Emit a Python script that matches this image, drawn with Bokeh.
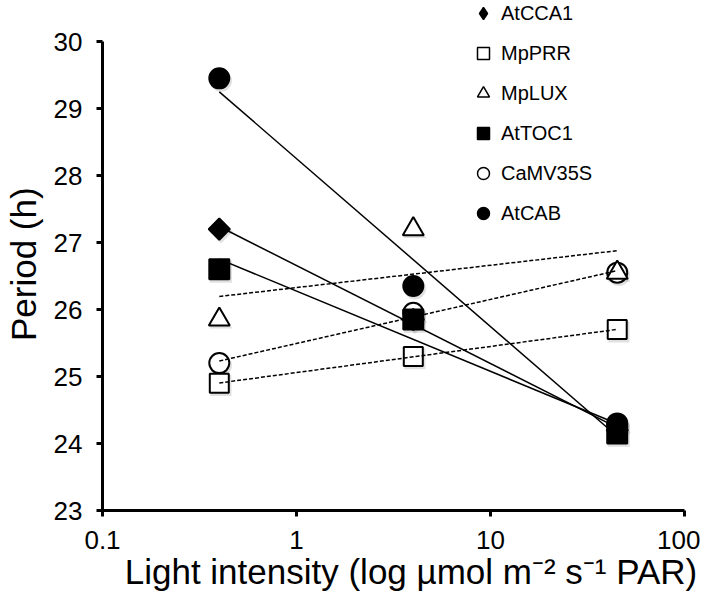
import numpy as np
from bokeh.plotting import figure
from bokeh.models import (Range1d, FixedTicker, CustomJSTickFormatter, Legend,
                          LegendItem, ColumnDataSource)
from bokeh.embed import file_html
from bokeh.resources import INLINE

# ---- data ----
light = [0.4, 4, 45]
series = ["AtCCA1", "MpPRR", "MpLUX", "AtTOC1", "CaMV35S", "AtCAB"]
atcca1 = [27.2, 25.85, 24.2]
mpprr = [24.9, 25.3, 25.7]
mplux = [25.85, 27.2, 26.55]
attoc1 = [26.6, 25.85, 24.15]
camv35s = [25.2, 25.95, 26.55]
atcab = [29.45, 26.35, 24.3]
x_ticks = [0.1, 1, 10, 100]
y_ticks = [23, 24, 25, 26, 27, 28, 29, 30]
y_axis_min, y_axis_max = 23, 30

values = {"AtCCA1": atcca1, "MpPRR": mpprr, "MpLUX": mplux,
          "AtTOC1": attoc1, "CaMV35S": camv35s, "AtCAB": atcab}
styles = {
    "AtCCA1": dict(marker="square", angle=np.pi / 4, fill="black", size=15, dash="solid",
                   legend_marker="diamond"),
    "MpPRR": dict(marker="square", angle=0, fill="white", size=19, dash="dashed",
                  legend_marker="square"),
    "MpLUX": dict(marker="triangle", angle=0, fill="white", size=21, dash="dashed",
                  legend_marker="triangle"),
    "AtTOC1": dict(marker="square", angle=0, fill="black", size=20, dash="solid",
                   legend_marker="square"),
    "CaMV35S": dict(marker="circle", angle=0, fill="white", size=20, dash="dashed",
                    legend_marker="circle"),
    "AtCAB": dict(marker="circle", angle=0, fill="black", size=20, dash="solid",
                  legend_marker="circle"),
}
draw_order = ["CaMV35S", "MpLUX", "MpPRR", "AtCCA1", "AtTOC1", "AtCAB"]

FONT = "Liberation Sans"

# frame runs to the very top of the canvas so the legend above "30" is not clipped;
# the axis itself is bounded to 23..30
PX_PER_UNIT = 67.0
TOP_GAP_PX = 41.0
y_end = y_axis_max + TOP_GAP_PX / PX_PER_UNIT

p = figure(width=700, height=600, x_axis_type="log",
           x_range=Range1d(0.1, 100), y_range=Range1d(y_axis_min, y_end),
           output_backend="svg", toolbar_location=None,
           min_border_left=102, min_border_right=16,
           min_border_top=0, min_border_bottom=90)
p.outline_line_color = None
p.grid.visible = False
p.background_fill_color = "white"

# soft drop shadows under the markers
for name in draw_order:
    st = styles[name]
    sx = [v * 1.02 for v in light]
    sy = [v - 0.035 for v in values[name]]
    p.scatter(sx, sy, marker=st["marker"], angle=st["angle"], size=st["size"] + 2,
              fill_color="black", fill_alpha=0.12, line_color=None)

for name in draw_order:
    st = styles[name]
    src = ColumnDataSource(dict(x=light, y=values[name]))
    p.scatter("x", "y", source=src, marker=st["marker"], angle=st["angle"],
              size=st["size"], fill_color=st["fill"], line_color="black",
              line_width=2)

# trend lines (least squares on log10 x), drawn over the markers
for name in draw_order:
    st = styles[name]
    lx = np.log10(light)
    k, b = np.polyfit(lx, values[name], 1)
    xs = [light[0], light[-1]]
    ys = [k * np.log10(v) + b for v in xs]
    if st["dash"] == "solid":
        p.line(xs, ys, line_color="black", line_width=1.5)
    else:
        p.line(xs, ys, line_color="black", line_width=1.5, line_dash="4 2")

# legend-only glyphs (a single NaN point, so nothing is drawn in the plot)
legend_renderers = {}
for name in series:
    st = styles[name]
    legend_renderers[name] = p.scatter(x=[np.nan], y=[np.nan], marker=st["legend_marker"],
                                       size=12, fill_color=st["fill"],
                                       line_color="black", line_width=1.5)

# axes
p.xaxis.ticker = FixedTicker(ticks=x_ticks, minor_ticks=[])
p.xaxis.formatter = CustomJSTickFormatter(code="return tick.toString();")
p.yaxis.ticker = FixedTicker(ticks=y_ticks, minor_ticks=[])
p.yaxis.bounds = (y_axis_min, y_axis_max)
for ax in (p.xaxis, p.yaxis):
    ax.axis_line_width = 3
    ax.axis_line_color = "black"
    ax.major_tick_line_width = 3
    ax.major_tick_line_color = "black"
    ax.major_tick_in = 0
    ax.major_tick_out = 6
    ax.minor_tick_line_color = None
    ax.major_label_text_font = FONT
    ax.major_label_text_font_size = "26px"
    ax.major_label_text_color = "black"
    ax.major_label_standoff = 14
    ax.axis_label_text_font = FONT
    ax.axis_label_text_font_style = "normal"
    ax.axis_label_text_color = "black"
    ax.axis_label_text_font_size = "35px"
p.xaxis.axis_label = "\u2003Light intensity (log \u00b5mol m\u207b\u00b2 s\u207b\u00b9 PAR)"
p.yaxis.axis_label = "Period (h)\u2002"
p.xaxis.axis_label_standoff = 0
p.yaxis.axis_label_standoff = 8

legend = Legend(items=[LegendItem(label=n, renderers=[legend_renderers[n]]) for n in series],
                location=(366, 282), orientation="vertical",
                glyph_width=30, glyph_height=30, label_height=30,
                spacing=10, padding=0, margin=0, label_standoff=3,
                label_text_font=FONT, label_text_font_size="20px",
                label_text_color="black",
                border_line_color=None, background_fill_alpha=0)
p.add_layout(legend, "center")

open("out.html", "w").write(file_html(p, INLINE))
